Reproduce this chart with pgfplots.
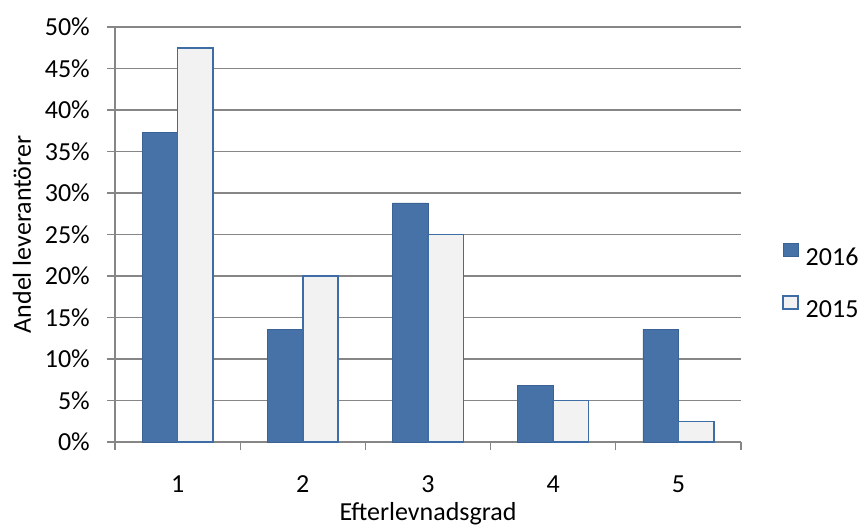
\documentclass[border=0pt]{standalone}
\usepackage{pgfplots}
\pgfplotsset{compat=1.18}
\usepackage{fontspec}
\setmainfont{Carlito}
\definecolor{gridgray}{RGB}{134,134,134}
\definecolor{bar16}{RGB}{70,114,167}
\definecolor{bar16edge}{RGB}{58,98,148}
\definecolor{bar15}{RGB}{242,242,242}
\definecolor{bar15edge}{RGB}{62,108,165}
\pgfplotsset{sqlegend/.style={legend image code/.code={\draw[##1] (0pt,0pt) rectangle (15pt,13pt);}}}
\begin{document}
\begin{tikzpicture}
\begin{axis}[
  scale only axis, width=626pt, height=415pt,
  xmin=0.5, xmax=5.5, ymin=0, ymax=50,
  axis x line*=bottom, axis y line*=left,
  axis line style={gridgray, line width=1.3pt, -},
  tick align=outside,
  major tick length=8pt, minor tick length=8pt,
  xtick={1,2,3,4,5}, xticklabels={1,2,3,4,5},
  minor xtick={0.5,1.5,2.5,3.5,4.5,5.5},
  major x tick style={draw=none},
  minor x tick style={gridgray, line width=1.3pt},
  ytick={0,5,10,15,20,25,30,35,40,45,50},
  yticklabels={0\%,5\%,10\%,15\%,20\%,25\%,30\%,35\%,40\%,45\%,50\%},
  major y tick style={gridgray, line width=1.3pt},
  ymajorgrids, grid style={gridgray, line width=1.3pt},
  every tick label/.append style={font=\fontsize{26}{31}\selectfont},
  xticklabel style={anchor=base, inner sep=0pt, yshift=-42pt},
  yticklabel style={anchor=east, inner sep=0pt, xshift=-17pt},
  ylabel={Andel leverantörer},
  xlabel={Efterlevnadsgrad},
  label style={font=\fontsize{26}{31}\selectfont},
  ylabel style={at={(axis description cs:-0.1342,0.5)}, anchor=base, inner sep=0pt},
  xlabel style={at={(axis description cs:0.5,0)}, anchor=base, inner sep=0pt, yshift=-78pt},
  legend style={draw=none, fill=none, at={(axis description cs:1,0.389)}, anchor=west,
    xshift=41pt, inner sep=0pt, row sep=30pt, column sep=7pt,
    font=\fontsize{26}{31}\selectfont,
    nodes={inner sep=0pt, text height=17pt, text depth=0pt}},
  legend cell align=left,
  sqlegend,
]
\addplot[ybar, bar width=0.283, bar shift=-0.1415, fill=bar16, draw=bar16edge, line width=0.8pt]
  coordinates {(1,37.3) (2,13.6) (3,28.8) (4,6.8) (5,13.6)};
\addlegendentry{2016}
\addplot[ybar, bar width=0.283, bar shift=0.1415, fill=bar15, draw=bar15edge, line width=1.5pt]
  coordinates {(1,47.5) (2,20) (3,25) (4,5) (5,2.5)};
\addlegendentry{2015}
\end{axis}
\pgfresetboundingbox
\path (-115pt,-85pt) rectangle (744pt,442pt);
\end{tikzpicture}
\end{document}
